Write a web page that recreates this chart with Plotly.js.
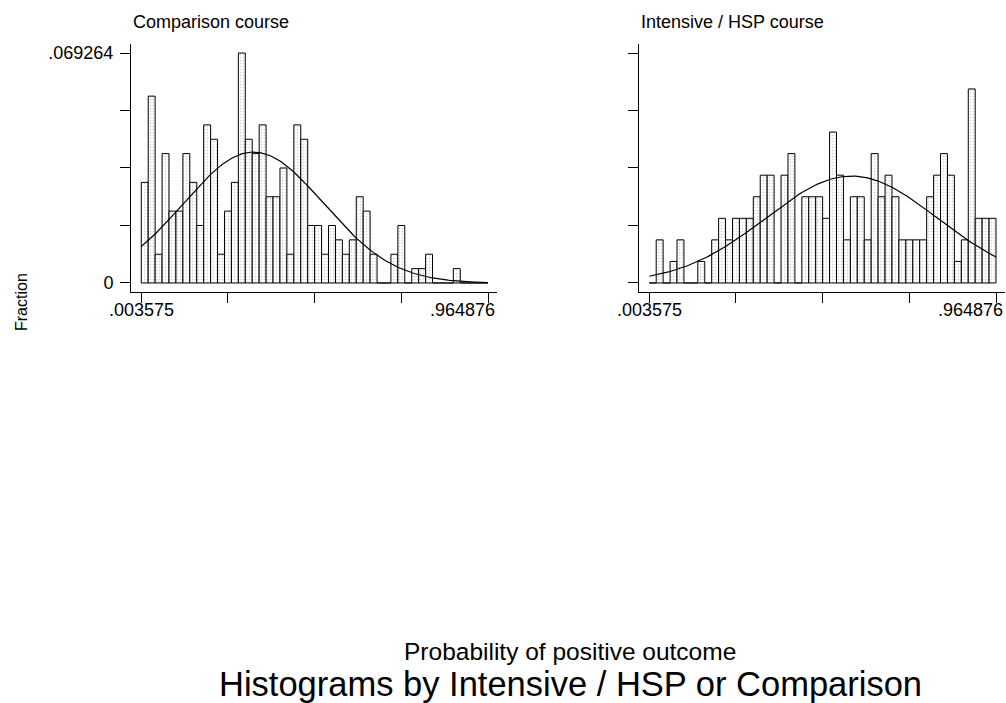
<!DOCTYPE html>
<html>
<head>
<meta charset="utf-8">
<script src="https://cdn.plot.ly/plotly-3.0.1.min.js"></script>
<style>html,body{margin:0;padding:0;background:#fff;}#chart{width:1006px;height:703px;}</style>
</head>
<body>
<div id="chart"></div>
<script>
// ---- data ----
const binLow = 0.003575;
const binHigh = 0.964876;
const binCount = 50;
const panelTitles = ["Comparison course", "Intensive / HSP course"];
// counts per bin (fraction = count / total)
const comparisonCounts = [7,13,2,9,5,5,9,7,4,11,10,2,5,7,16,10,9,11,6,6,8,2,
                          11,10,4,4,2,4,3,2,3,6,5,2,0,0,2,4,0,1,1,2,0,0,0,1,0,0,0,0];
const intensiveCounts  = [0,2,0,1,2,0,0,1,0,2,3,2,3,3,3,4,5,5,0,5,6,
                          0,4,4,4,3,7,5,2,4,4,2,6,4,5,4,2,2,2,2,4,5,6,5,1,2,9,3,3,3];
const yTickVals = [0, 0.017316, 0.034632, 0.051948, 0.069264];
const yTickTextLeft = ["0", "", "", "", ".069264"];
const xTickVals = [0.003575, 0.2439, 0.484226, 0.724551, 0.964876];
const xTickText = [".003575", "", "", "", ".964876"];
const yAxisTitle = "Fraction";
const xAxisTitle = "Probability of positive outcome";
const mainTitle = "Histograms by Intensive / HSP or Comparison";

// ---- build ----
const binW = (binHigh - binLow) / binCount;
const mids = comparisonCounts.map((_, k) => binLow + (k + 0.5) * binW);

function fractions(counts) {
  const n = counts.reduce((a, b) => a + b, 0);
  return counts.map(c => c / n);
}
function normalCurve(counts) {
  const n = counts.reduce((a, b) => a + b, 0);
  let m = 0; counts.forEach((c, k) => m += c * mids[k]); m /= n;
  let v = 0; counts.forEach((c, k) => v += c * (mids[k] - m) * (mids[k] - m)); v /= (n - 1);
  const s = Math.sqrt(v);
  const xs = [], ys = [];
  for (let i = 0; i <= 200; i++) {
    const x = binLow + (binHigh - binLow) * i / 200;
    xs.push(x);
    ys.push(binW * Math.exp(-0.5 * ((x - m) / s) ** 2) / (s * Math.sqrt(2 * Math.PI)));
  }
  return {xs, ys};
}

const barStyle = {
  color: "#ffffff",
  line: {color: "#000000", width: 1},
  pattern: {shape: ".", size: 3, solidity: 0.2, fgcolor: "#9a9a9a", bgcolor: "#ffffff", fillmode: "overlay"}
};

const c1 = normalCurve(comparisonCounts);
const c2 = normalCurve(intensiveCounts);

const traces = [
  {type: "bar", x: mids, y: fractions(comparisonCounts), width: binW, marker: barStyle, xaxis: "x", yaxis: "y", hoverinfo: "skip"},
  {type: "scatter", mode: "lines", x: c1.xs, y: c1.ys, line: {color: "#000", width: 1.2}, xaxis: "x", yaxis: "y", hoverinfo: "skip"},
  {type: "bar", x: mids, y: fractions(intensiveCounts), width: binW, marker: barStyle, xaxis: "x2", yaxis: "y2", hoverinfo: "skip"},
  {type: "scatter", mode: "lines", x: c2.xs, y: c2.ys, line: {color: "#000", width: 1.2}, xaxis: "x2", yaxis: "y2", hoverinfo: "skip"}
];

const W = 1006, H = 703;
const font = {family: "Liberation Sans, Arial, sans-serif", color: "#000"};
const xRange = [-0.0249, 0.9898];
const yRange = [-0.00272, 0.07198];
const yDom = [1 - 292 / H, 1 - 44 / H];

function xax(domain) {
  return {domain, range: xRange, showgrid: false, zeroline: false, showline: true, linecolor: "#000", linewidth: 1,
    ticks: "outside", ticklen: 10, tickwidth: 1, tickcolor: "#000", tickmode: "array",
    tickvals: xTickVals, ticktext: xTickVals.map(() => ""), showticklabels: false, fixedrange: true};
}
function yax(domain, anchor, text) {
  return {domain, range: yRange, anchor, showgrid: false, zeroline: false, showline: true, linecolor: "#000", linewidth: 1,
    ticks: "outside", ticklen: 10, tickwidth: 1, tickcolor: "#000", tickmode: "array",
    tickvals: yTickVals, ticktext: text, tickfont: {...font, size: 18}, ticklabelstandoff: 3, fixedrange: true};
}

// x tick labels placed like Stata does (last one pulled inside the axis end)
const xLabelY = 1 - 310 / H;
function xLabels(axisLeftPx, axisRightPx) {
  const pxPerUnit = (axisRightPx - axisLeftPx) / (xRange[1] - xRange[0]);
  const firstPx = axisLeftPx + (xTickVals[0] - xRange[0]) * pxPerUnit;
  return [
    {text: xTickText[0], xref: "paper", yref: "paper", x: firstPx / W, y: xLabelY, xanchor: "center", yanchor: "middle", showarrow: false, font: {...font, size: 18}},
    {text: xTickText[4], xref: "paper", yref: "paper", x: (axisRightPx - 0.5) / W, y: xLabelY, xanchor: "right", yanchor: "middle", showarrow: false, font: {...font, size: 18}}
  ];
}

const layout = {
  width: W, height: H,
  margin: {l: 0, r: 0, t: 0, b: 0},
  paper_bgcolor: "#fff", plot_bgcolor: "#fff",
  showlegend: false, bargap: 0,
  font: font,
  xaxis: {...xax([131 / W, 497 / W]), anchor: "y"},
  yaxis: yax(yDom, "x", yTickTextLeft),
  xaxis2: {...xax([639 / W, 1005 / W]), anchor: "y2"},
  yaxis2: yax(yDom, "x2", yTickVals.map(() => "")),
  annotations: [
    {text: panelTitles[0], xref: "paper", yref: "paper", x: 131 / W, y: 1 - 21.5 / H, xanchor: "left", yanchor: "middle", showarrow: false, font: {...font, size: 18}},
    {text: panelTitles[1], xref: "paper", yref: "paper", x: 639 / W, y: 1 - 21.5 / H, xanchor: "left", yanchor: "middle", showarrow: false, font: {...font, size: 18}},
    ...xLabels(131, 497),
    ...xLabels(639, 1005),
    {text: yAxisTitle, xref: "paper", yref: "paper", x: 21 / W, y: 1 - 302 / H, xanchor: "center", yanchor: "middle", textangle: -90, showarrow: false, font: {...font, size: 16}},
    {text: xAxisTitle, xref: "paper", yref: "paper", x: 570 / W, y: 1 - 651 / H, xanchor: "center", yanchor: "middle", showarrow: false, font: {...font, size: 24.5}},
    {text: mainTitle, xref: "paper", yref: "paper", x: 570 / W, y: 1 - 684 / H, xanchor: "center", yanchor: "middle", showarrow: false, font: {...font, size: 34.5}}
  ]
};

Plotly.newPlot("chart", traces, layout, {displayModeBar: false, staticPlot: true});
</script>
</body>
</html>
